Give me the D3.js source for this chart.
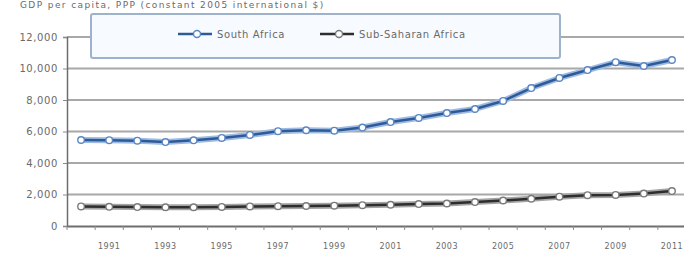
<!DOCTYPE html>
<html>
<head>
<meta charset="utf-8">
<script src="https://cdn.jsdelivr.net/npm/d3@7"></script>
<style>
  body { margin: 0; background: #fff; }
  svg { display: block; }
  text { font-family: "DejaVu Sans", sans-serif; fill: #6a6a6a; }
</style>
</head>
<body>
<svg id="chart" width="684" height="260"></svg>
<script>
const years = d3.range(1990, 2012);
const tickYears = [1991, 1993, 1995, 1997, 1999, 2001, 2003, 2005, 2007, 2009, 2011];
const yTicks = [0, 2000, 4000, 6000, 8000, 10000, 12000];

const southAfrica = [5460, 5450, 5420, 5330, 5440, 5590, 5780, 6020, 6080, 6050,
  6250, 6600, 6860, 7170, 7430, 7940, 8760, 9400, 9900, 10400, 10160, 10540];
const subSaharan = [1240, 1220, 1200, 1190, 1190, 1210, 1240, 1260, 1270, 1290,
  1320, 1350, 1390, 1430, 1520, 1620, 1730, 1860, 1960, 1970, 2060, 2220];

const seriesNames = ['South Africa', 'Sub-Saharan Africa'];
const titleText = 'GDP per capita, PPP (constant 2005 international $)';

const series = [
  { name: seriesNames[0], values: southAfrica, glow: '#9dbbe3', line: '#2f5a98', marker: '#5a86c2' },
  { name: seriesNames[1], values: subSaharan, glow: '#a4a4a4', line: '#2e2e2e', marker: '#7a7a7a' }
];

const svg = d3.select('#chart');

const x = d3.scaleBand().domain(years).range([67, 686]);
const y = d3.scaleLinear().domain([0, 12000]).range([226, 37]);
const cx = d => x(d) + x.bandwidth() / 2;

// title, squeezed into the top edge
svg.append('text')
  .attr('x', 20).attr('y', 8)
  .attr('font-size', 9)
  .attr('letter-spacing', 1.4)
  .attr('fill', '#8a8a8a')
  .text(titleText);

// gridlines
svg.append('g')
  .selectAll('line')
  .data(yTicks.filter(d => d > 0))
  .enter().append('line')
  .attr('x1', 67).attr('x2', 686)
  .attr('y1', d => y(d)).attr('y2', d => y(d))
  .attr('stroke', '#a8a8a8')
  .attr('stroke-width', 2);

// y axis
const yAxis = svg.append('g')
  .attr('transform', 'translate(67,0)')
  .call(d3.axisLeft(y).tickValues(yTicks).tickSize(4).tickFormat(d3.format(',')));
yAxis.select('.domain').attr('stroke', '#6e6e6e').attr('stroke-width', 1.5);
yAxis.selectAll('.tick line').attr('stroke', '#8a8a8a');
yAxis.selectAll('.tick text')
  .attr('x', -9)
  .attr('font-size', 10)
  .attr('letter-spacing', 0.6)
  .style('font-family', '"DejaVu Sans", sans-serif')
  .attr('fill', '#6a6a6a');

// x axis
const xAxis = svg.append('g')
  .attr('transform', `translate(0,${y(0)})`)
  .call(d3.axisBottom(x).tickValues(tickYears).tickSize(0).tickPadding(17));
xAxis.select('.domain').attr('stroke', '#6e6e6e').attr('stroke-width', 2);
xAxis.selectAll('.tick text')
  .attr('font-size', 8)
  .attr('letter-spacing', 0.5)
  .style('font-family', '"DejaVu Sans", sans-serif')
  .attr('fill', '#7a7a7a');
// small ticks on category boundaries
svg.append('g')
  .selectAll('line')
  .data(years)
  .enter().append('line')
  .attr('x1', d => x(d)).attr('x2', d => x(d))
  .attr('y1', y(0)).attr('y2', y(0) + 4)
  .attr('stroke', '#8a8a8a');

// lines
const line = d3.line().x((d, i) => cx(years[i])).y(d => y(d));

const groups = svg.selectAll('g.series')
  .data(series)
  .enter().append('g')
  .attr('class', 'series');

groups.append('path')
  .attr('d', d => line(d.values))
  .attr('fill', 'none')
  .attr('stroke', d => d.glow)
  .attr('stroke-width', 6)
  .attr('stroke-linejoin', 'round');
groups.append('path')
  .attr('d', d => line(d.values))
  .attr('fill', 'none')
  .attr('stroke', d => d.line)
  .attr('stroke-width', 2.5)
  .attr('stroke-linejoin', 'round');
groups.each(function(s) {
  d3.select(this).selectAll('circle')
    .data(s.values)
    .enter().append('circle')
    .attr('cx', (d, i) => cx(years[i]))
    .attr('cy', d => y(d))
    .attr('r', 3.3)
    .attr('fill', '#fff')
    .attr('stroke', s.marker)
    .attr('stroke-width', 1.4);
});

// legend
const legend = svg.append('g').attr('class', 'legends');
legend.append('rect')
  .attr('x', 91).attr('y', 14)
  .attr('width', 469).attr('height', 44)
  .attr('rx', 2)
  .attr('fill', '#f7faff')
  .attr('stroke', '#9fb2cc')
  .attr('stroke-width', 2);

const legendX = [178, 320];
const items = legend.selectAll('g.legend')
  .data(series)
  .enter().append('g')
  .attr('class', 'legend')
  .attr('transform', (d, i) => `translate(${legendX[i]},34)`);
items.append('line')
  .attr('x1', 0).attr('x2', 34)
  .attr('stroke', d => d.line)
  .attr('stroke-width', 2.5);
items.append('circle')
  .attr('cx', 19).attr('r', 3.5)
  .attr('fill', '#fff')
  .attr('stroke', d => d.marker)
  .attr('stroke-width', 1.4);
items.append('text')
  .attr('x', 39).attr('dy', '0.35em')
  .attr('font-size', 10)
  .attr('letter-spacing', 0.6)
  .text(d => d.name);
</script>
</body>
</html>
